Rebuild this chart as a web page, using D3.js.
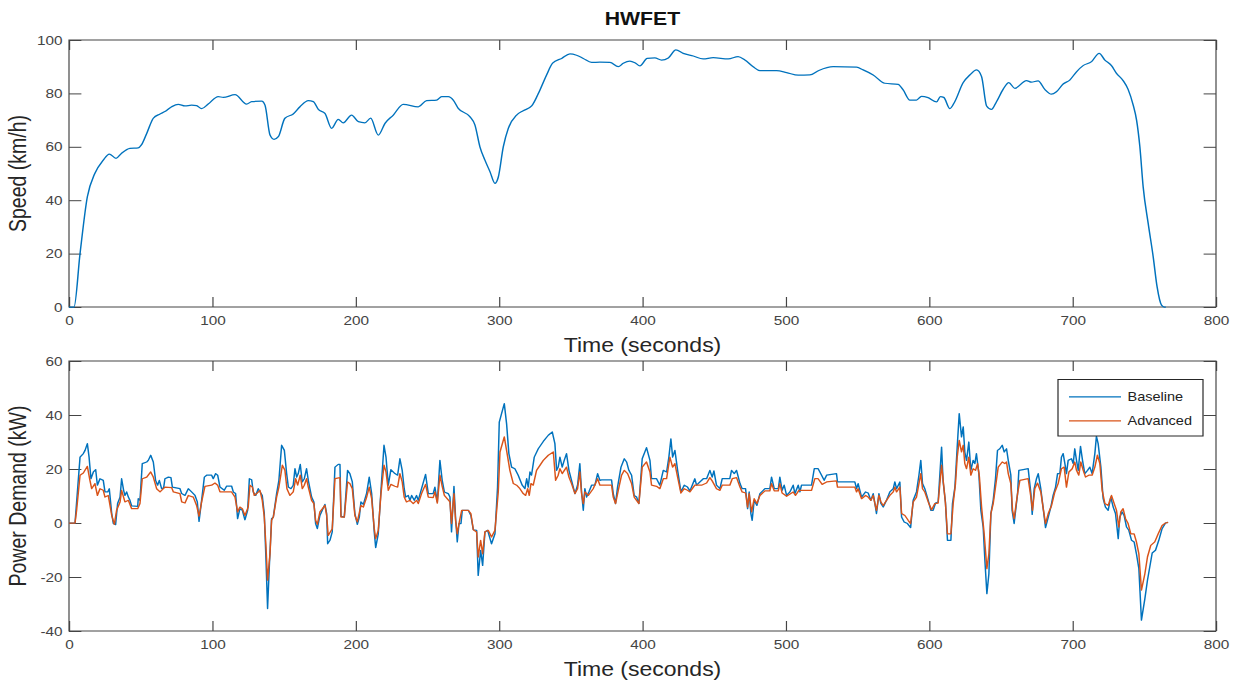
<!DOCTYPE html>
<html>
<head>
<meta charset="utf-8">
<script src="https://cdn.jsdelivr.net/npm/d3@7"></script>
<style>
  html, body { margin: 0; padding: 0; background: #fff; }
  svg { display: block; }
</style>
</head>
<body>
<svg id="chart" width="1240" height="682"></svg>
<script>
// ---- data (time s, value) ----
const chartTitle = "HWFET";
const seriesNames = ["Baseline", "Advanced"];
const timeTicks = [0, 100, 200, 300, 400, 500, 600, 700, 800];
const speedTicks = [0, 20, 40, 60, 80, 100];
const powerTicks = [-40, -20, 0, 20, 40, 60];

const speedKmh = [[0,0],[3.5,0],[7.7,20],[12.8,41.3],[18,50],[23.9,55],[28.1,57.3],[32.8,55.7],[36.7,57.6],[42.5,59.4],[48.3,59.6],[50.5,60.7],[54.2,65],[58.8,70.7],[63.5,72.3],[66.9,73.2],[71.6,75],[76.2,75.9],[80.9,75.3],[85.5,75.6],[89,75.4],[92.5,74.3],[97.1,76],[104.1,78.8],[107.6,78.5],[115.8,79.5],[123.9,76],[127.4,76.9],[134.4,77.1],[136.7,75.6],[140.2,64.4],[143,62.8],[146,63.8],[150.6,70.7],[156.4,72.3],[161.1,75],[166.9,77.3],[170.4,76.9],[173.9,74],[178.5,72.5],[183.2,66.9],[187.8,70.3],[191.3,69],[197.1,71.9],[201.8,69.4],[206.4,69],[210.4,70.7],[215.7,64.4],[220.4,68.8],[226.2,71.9],[233.1,75.9],[243.6,75],[249.4,77.3],[256.4,77.5],[259.9,78.8],[264.6,78.8],[268,77.5],[271.5,74.4],[279.6,71.3],[283.1,68.2],[286.6,60],[290.1,55],[293.6,50.7],[297.1,46.3],[299.4,48.6],[302.9,60],[306.4,66.9],[312.2,71.9],[316.8,73.5],[322.7,75.3],[328.5,81.3],[333.1,86.9],[337.3,91.3],[343.6,93.1],[349.4,94.8],[354,94.3],[358.7,93.1],[364.5,91.6],[370.3,91.7],[377.3,91.6],[383.1,90],[386.6,91.3],[391.2,92.1],[394.7,91.5],[398.2,90.3],[403.3,93.1],[408.6,93.3],[413.3,92.5],[418,93.3],[423.3,96.3],[428.4,95],[435.4,94],[442.3,92.9],[449.3,93.4],[459.8,92.9],[466.7,93.8],[471.4,92.5],[477.2,90],[481.9,88.5],[493.5,88.5],[500.5,87.8],[508.6,86.8],[516.7,86.9],[523,88.6],[533,90],[549.3,89.8],[553.9,88.8],[560.9,86.9],[569,83.8],[578.3,83.4],[581.8,81.3],[586.5,77.5],[591.1,77.5],[594.6,78.9],[599.2,78.4],[605.1,76.8],[607.8,78.8],[610.1,78.5],[614.4,74.3],[617.8,76.9],[623.6,84],[628.3,86.9],[633,88.8],[636.5,86.3],[640,75.3],[643.4,74],[646.9,76.9],[651.5,81.5],[655.5,84],[659.7,81.9],[667.8,84.8],[671.3,84.2],[675.9,84.7],[680.6,81.5],[685.2,79.7],[688.7,80.6],[693.4,83.5],[698,85],[702.7,88.1],[707.3,90.4],[713.2,91.9],[718.5,95],[722.5,92.5],[727.1,90.4],[730.6,87.5],[735.2,84.8],[738.7,81.5],[742.2,75.7],[744.6,70],[746.9,60],[749.2,45],[752.7,31.3],[756.2,18.8],[758.9,7.6],[762,0.7],[764,0],[765,0]];

const baselineKw = [[0,0],[4.2,0],[7.7,24.4],[10,25.7],[11.2,26.9],[12.8,29.4],[14,24.4],[15.3,16.4],[17,18.9],[18.6,19.8],[19.8,14],[21.6,16.4],[23.9,15.8],[25.1,11.5],[27,11.5],[28.1,12.7],[29.8,3.5],[30.9,-0.2],[32.5,-0.6],[33.9,7.2],[35.6,9.6],[36.7,16.4],[38.1,12.1],[39,10.2],[40.2,11.5],[41.4,9.6],[42.5,8.4],[43.7,6.3],[47.9,6.2],[48.3,9],[49.5,8.4],[51.1,22],[54.2,22.6],[55.3,23.2],[57,25.1],[58.8,22.6],[60.4,15.8],[61.8,14],[63,15.8],[64.6,12.7],[66,13],[66.9,16.4],[69.3,17],[71.1,16.8],[72.1,13.3],[77.4,12.7],[78.6,10.9],[80.9,10.2],[83.2,12.7],[85.5,11.5],[87.9,10.2],[89.5,7.8],[90.7,0.6],[92.5,8.4],[94.4,17],[96,17.7],[99.5,17.7],[100.6,16.4],[102.3,18.3],[103.7,17.7],[105.3,13.3],[108.3,12.1],[110,13.7],[113.4,13.7],[114.6,11.5],[116.2,10.9],[117.6,1.6],[119.2,5.3],[120.9,4.7],[122.7,1.2],[124.6,4.7],[125.8,16.4],[127.4,16],[128.5,11.5],[130.2,10.2],[132,12.7],
  [134.8,10.2],[136.2,3.5],[137.4,-13.8],[138.5,-31.7],[139.7,-16.3],[141.3,1.6],[142.5,2.2],[144.8,10.9],[146.4,15.8],[148.3,28.8],[150.2,26.9],[151.8,18.3],[153,13.3],[154.8,12.7],[156.4,14],[157.6,20.1],[158.8,17],[159.9,18.3],[161.3,21.7],[162.7,15.2],[164.1,16.4],[165.7,20.1],[166.9,15.8],[169.2,9.6],[170.8,7.8],[172,-0.2],[173.2,-2.1],[175,2.8],[178.5,6.9],[179.7,3.5],[180.4,-7.7],[182,-6.4],[183.6,-3.3],[185.5,20.7],[187.8,21.7],[189,21.7],[189.7,2.5],[192,2.2],[194.3,19.5],[195.9,18.3],[197.6,15.2],[199.4,3.5],[201.1,-0.5],[202.5,2.2],[203.6,7.8],[205.3,6.9],[207.6,11.1],[209.4,17],[211.1,10.9],[212.9,-3.3],[213.9,-9.1],[215.7,-4],[217.6,12.1],[219.7,28.8],[221.1,24.4],[222.7,14],[224.5,19.8],[227.3,18.3],[229.2,17.7],[230.8,23.8],[232.4,19.5],[233.8,12.7],[234.8,9.6],[236.6,10.2],[237.8,8.4],[239,10.2],[240.8,8.4],[242.4,10.2],[243.6,8.4],[245.9,12.7],[248.7,18],[250.6,10.9],[254,10.9],[255.2,13.3],[256.9,7.8],[258.7,23.2],[260.3,15.8],[261.8,11.5],
  [264.5,10.9],[265.7,9.6],[266.8,-3.3],[268.5,13.6],[269.6,2.2],[270.8,-7],[272,-0.2],[273.4,-0.2],[274.3,4.7],[278.5,4.7],[280.3,2.8],[282,-2.5],[284.3,-2.7],[285.4,-19.4],[287.1,-10.1],[288.5,-15.7],[290.1,-3.3],[292,-2.7],[294.7,-7.7],[297.1,-4],[298.9,13.3],[300.1,37.4],[301.7,40.5],[303.6,44.2],[305.2,36.8],[306.8,25.7],[308.7,20.7],[311,20.1],[313.3,17.7],[316.1,14],[318,12.7],[319.2,16.4],[320.3,13.3],[321.5,18.9],[322.6,17.7],[324.5,24.4],[327.3,27.5],[330.8,30.2],[334.3,32.5],[337.1,33.7],[338.9,29.4],[340.1,19.5],[341.2,20.7],[342.4,24.4],[344,20.7],[345.4,23.2],[347,25.7],[348.7,19.5],[350.5,15.8],[352.9,10.9],[354.7,14],[356.3,22],[357.5,11.5],[358.7,4.7],[359.8,12.7],[361,9.6],[362.6,11.5],[364.5,14],[366.8,14],[368.7,18.3],[370.3,15.8],[371.5,16],[378.4,16],[379.6,10.9],[381.2,7.2],[382.6,13.3],[385,20.7],[387.3,23.8],[388.9,22.6],[390.5,19.5],[392.4,17.7],[394.2,10.2],
  [395.9,9.6],[397.5,7.2],[399.8,23.8],[402.8,27.9],[405.2,23.2],[406.3,16.4],[409.8,16.4],[412.1,14],[414.5,19.5],[416.8,18.9],[418.4,24.4],[419.8,31.2],[421,24.4],[422.6,26.9],[424.5,19.5],[426.8,11.5],[429.1,14],[431.4,13.3],[433.1,11.9],[434.7,14],[436.5,16.4],[437.7,14],[442.4,16.4],[444.7,16.4],[447,19.5],[448.6,17],[449.8,19.3],[451.6,14],[454,12.7],[455.6,16.4],[460.9,16.4],[462.1,19.5],[464,18.3],[465.6,19.5],[468,14.6],[469.5,12.7],[471.9,12.7],[473.3,5.3],[474.4,11.5],[475.6,3.5],[476.5,1],[477.9,8.4],[479.8,6.5],[481.9,10.9],[485.4,12.7],[488.8,12.7],[490,17],[491.9,12.7],[494.7,12.7],[495.8,17],[497.4,12.1],[498.8,14],[500.5,10.2],[502.8,11.5],[505.1,14],[506.3,10.9],[508.6,14],[509.8,11.5],[510.9,14],[517.9,14],[519.8,20.1],[522.5,20.1],[524.9,17.7],[526.7,15.8],
  [528.4,17.7],[535.3,18.3],[536,15.2],[548.1,15.2],[549.3,12.7],[550.4,14.6],[552.8,9.6],[555.6,11.5],[557.4,11.1],[559.3,8.4],[560.9,10.9],[562.1,7.2],[563.2,3.5],[564.9,10.9],[566.3,7.2],[567.9,5.9],[570.2,8.4],[572.5,11.5],[574.9,12.7],[576,15.2],[577.2,12.7],[579.5,15.2],[580.7,2.2],[582.5,0.4],[584.8,-0.2],[587,-1.7],[588.8,8.4],[591.1,11.5],[592.8,17.7],[594.1,23.2],[595.3,14.6],[596.9,12.7],[599.3,8.4],[601.1,4.7],[602.7,4.7],[604.4,7.4],[606.2,7.8],[608.6,28.1],[609.7,15.2],[611.3,7.8],[612.7,-6.4],[615.1,-6.4],[616.2,7.2],[617.9,13.3],[619.5,28.1],[620.9,40.5],[622.5,31.9],[623.7,35.6],[624.8,26.3],[626,23.2],[627.6,30],[629,19.5],[630.6,23.2],[631.8,22],[632.9,25.7],[634.6,18.3],[636,4.7],[637.6,-1.5],[638.8,-13.8],[640.2,-26.2],[641.6,-18.8],[643,3.5],[644.6,8.4],[646.2,16.4],[647.6,26.9],[649.2,27.5],[650.9,28.8],[652.3,26.3],[653.9,27.5],[655.1,23.2],[656.9,17.7],[657.8,4.7],[659.2,-0.2],
  [661.6,10.9],[662.5,19.5],[665.5,19.8],[669,20.1],[670.9,10.9],[671.8,3.2],[673.2,12.7],[674.8,16.4],[676,18.3],[677.8,12.7],[679.5,5.3],[681.1,-1.7],[683,2.2],[684.8,5.9],[686.4,10.2],[688.1,13.3],[689.5,18.3],[691.1,18.3],[692.2,24.4],[693.4,25.7],[694.6,22],[695.7,18.3],[696.9,23.2],[699.2,23.8],[700.4,22],[701.5,27.5],[702.7,23.2],[703.9,19.5],[705.5,28.4],[706.9,23.2],[708.5,18.3],[710.4,19.5],[712,20.7],[713.6,18.3],[715.5,25.7],[716.6,32.1],[717.8,29.4],[719.7,20.7],[721.3,9],[722.9,5.9],[724.8,4.7],[726.6,9.6],[728.3,5.9],[729.9,3.5],[731.8,-5.8],[732.9,2.2],[734.5,4.1],[735.9,2.8],[737.6,-1.5],[739.2,-2.7],[741.1,-6.4],[742.9,-7],[744.5,-11.4],[746.2,-16.9],[748,-36],[750.4,-28],[752.2,-21.2],[753.8,-16.3],[755.5,-11.1],[757.8,-10.1],[760.1,-6.4],[762.4,-2.1],[764.8,0],[766.6,0.2]];

const advancedKw = [[0,0],[4.2,0],[5.3,4.7],[7.7,17.7],[10,18.5],[12.8,21],[14.6,15.8],[15.8,12.7],[18.1,14.6],[19.8,10.2],[21.6,12.7],[23.9,12.1],[25.1,9.6],[27.4,10.2],[29.8,2.8],[31.6,-0.5],[33.2,4.7],[35.6,7.8],[36.7,12.1],[39,7.8],[41.4,8.4],[43.7,5.3],[47.9,5.3],[49.5,7.2],[51.1,16.4],[54.2,17],[57,18.9],[58.8,17],[61.1,12.7],[63.5,11.5],[66.9,13.3],[71.6,13.1],[72.8,11.5],[77.4,10.9],[78.6,7.8],[80.9,7.4],[83.2,10.2],[86.7,9.6],[89,6.5],[90.7,2.5],[92.5,7.8],[94.8,13.6],[99.5,14],[101.8,14.8],[103.7,14],[105.3,11.5],[110,11.5],[113.4,11.5],[115.8,9.6],[117.6,4.1],[119.2,5.9],[120.9,5.3],[122.7,2.8],[125,5.9],[126.2,14],[127.9,13.3],[129.2,10.2],[130.9,10.9],[133.2,12.1],
  [134.8,8.4],[136.2,2.2],[137.4,-8.9],[138.5,-21.2],[140.2,-11.4],[141.3,1],[142.5,2.2],[144.8,9.6],[146.4,13.3],[148.8,21.4],[150.6,19.5],[152,12.7],[154.1,10.2],[156.4,11.5],[158.1,16.4],[159.5,14],[161.3,17.7],[162.7,12.7],[164.1,14],[165.7,16.4],[166.9,13.3],[169.2,8.4],[170.8,7.2],[172,1],[173.2,-0.5],[175,4.1],[178.5,6.5],[179.7,2.8],[180.8,-4.6],[183.6,-2.1],[185.5,16.4],[189,16.8],[189.7,2.2],[192,2.2],[194.3,15.2],[195.9,14.6],[197.6,12.7],[199.4,2.8],[201.1,0.4],[203.6,6.5],[205.3,5.9],[207.6,9.6],[209.4,13.3],[211.1,9],[212.9,-2.1],[213.9,-5.8],[215.7,-2.7],[217.6,10.9],[219.7,21.4],[221.1,18.9],[222.7,12.1],[224.5,14.3],[227.3,13.6],[229.2,13.3],[230.8,18.3],[232.4,15.2],[233.8,9.6],[235.4,7.8],[237.8,8.4],[240.1,7.2],[242.4,8.4],[243.6,7.2],[245.9,10.9],[248.7,14.3],[250.6,9.6],[254,9.4],[255.2,11.5],[256.9,7.4],[258.7,17.7],[260.3,13.6],[261.8,10.2],
  [265.7,7.8],[266.8,-0.2],[268.5,10.9],[269.6,1],[270.8,-4],[272,-0.2],[273.9,4.7],[278.5,4.7],[280.3,3.5],[282,-2.5],[284.3,-3.3],[285.4,-12.6],[287.1,-6.4],[288.5,-11.4],[290.1,-3.3],[292.4,-2.7],[294.7,-5.2],[297.1,-2.7],[299.4,11.5],[300.6,26.3],[303.6,31.9],[305.2,26.9],[307.5,19.5],[309.9,14.6],[312.2,14],[314.5,12.7],[316.8,10.9],[318.5,10.2],[319.9,12.7],[321,10.2],[322.2,14.6],[323.8,14],[326.1,19.5],[330.8,23.2],[334.3,25.1],[337.8,26.3],[339.4,15.8],[341.2,17.7],[342.4,20.1],[344,18.3],[347,20.7],[348.7,17],[350.5,14.6],[352.9,10.9],[354.7,12.7],[356.3,18.9],[357.5,10.9],[358.7,7.2],[359.8,11.5],[362.2,10.2],[365.6,12.7],[368.7,16.4],[370.3,14],[378.4,14],[379.6,9.6],[381.2,7.2],[383.1,12.1],[385.4,17.7],[387.3,19.5],[389.6,18.3],[392.4,14.6],[394.2,9.6],
  [397.5,7.2],[399.8,20.7],[402.8,22.6],[405.2,18.9],[406.3,14],[409.8,13.6],[412.1,12.7],[414.5,16.4],[416.8,16.4],[419.1,24.4],[421,20.7],[422.6,22],[424.5,17],[426.8,11.1],[429.1,12.7],[431.4,12.1],[433.1,11.5],[436.5,14],[441.2,14],[444.7,14.8],[447,16.8],[448.6,15.6],[451.6,12.7],[454,12.1],[455.6,14],[460.9,14],[462.6,16.4],[465.6,16.8],[468,13.3],[469.5,11.5],[471.9,11.1],[473.3,5.9],[474.4,10.9],[476.1,4.1],[477.9,9],[479.8,7.2],[481.9,10.2],[485.4,11.9],[488.8,11.9],[490,14.6],[491.9,11.9],[494.7,11.9],[495.8,14.6],[497.4,11.1],[500.5,9.9],[505.1,11.5],[506.7,10.2],[509.1,12.1],[517.9,12.1],[520.2,16.4],[522.5,16.4],[525.3,14.3],[528.4,15.2],
  [535.3,15.6],[536,13.3],[548.1,13.3],[549.3,11.5],[550.4,12.7],[552.8,9],[555.6,10.2],[557.4,9.6],[559.3,8.4],[560.9,10.2],[562.1,7.2],[563.2,4.7],[564.9,10.2],[566.3,7.8],[567.9,6.5],[570.2,8.4],[572.5,10.2],[574.9,11.5],[576,13.3],[577.2,11.5],[579.5,13.3],[580.7,3.5],[583,2.8],[585.3,1],[587,-0.2],[588.8,7.8],[591.1,9.6],[592.8,14.6],[594.1,18.3],[595.3,12.7],[596.9,11.5],[599.3,7.8],[601.6,4.9],[603.9,7.2],[606.2,7.4],[608.6,21.4],[610.2,13.3],[611.3,7.2],[612.7,-4],[615.1,-4],[616.7,7.2],[618.3,14.6],[619.5,24.4],[620.9,30.6],[622.5,26.3],[623.7,28.8],[624.8,22],[626,20.1],[627.6,24.4],[629,17.7],[630.6,20.1],[632.3,19.5],[633.7,22],[635,17],[636.5,5.9],[638.3,-4],[640.2,-16.9],[641.6,-11.4],[643,3.5],[644.6,7.2],[646.2,13.3],[648.1,20.7],[650.9,22.6],[652.7,22],[653.9,22.6],[655.1,18.3],[656.9,14.6],[658.1,4.7],[659.2,1.6],
  [661.6,10.9],[663.2,15.8],[669,16.4],[670.9,9.6],[672,4.7],[673.6,12.7],[675.5,14.8],[677.8,11.5],[679.5,5.3],[681.1,-0.2],[683,3.5],[685.3,6.5],[687.6,11.5],[689.9,14.6],[692.2,20.1],[694.1,20.7],[695.7,13.3],[697.4,18.9],[699.7,20.1],[701.5,22.6],[702.7,19.5],[704.3,17.7],[705.7,22.6],[707.4,19.5],[709,17],[711.3,17.7],[713.6,17.7],[715.5,20.7],[717.3,25.1],[719,22],[720.6,12.1],[722.5,7.2],[724.8,6.5],[727.1,10.2],[729,7.2],[730.6,4.7],[732.2,-1.5],[733.6,4.1],[735.2,5.3],[736.9,1.6],[738.7,-0.2],[740.6,-4],[742.9,-4],[744.5,-7],[746.2,-11.4],[748,-24.9],[750.4,-18.8],[752.2,-12.6],[754.5,-8.3],[757.3,-7],[759.7,-4],[762.4,-0.9],[764.8,0],[766.6,0.2]];

// ---- layout ----
// the reference figure is stretched horizontally, so draw in a narrower
// viewBox and let the svg scale it out to 1240 wide
const S = 1.18;
const W = 1240 / S, H = 682;
const svg = d3.select("#chart")
  .attr("viewBox", `0 0 ${W} ${H}`)
  .attr("preserveAspectRatio", "none");

const FONT = "'Liberation Sans', Arial, Helvetica, sans-serif";
const axisColor = "#444";
const textColor = "#444";
const colors = ["#0072BD", "#D95319"];

const left = 69 / S, right = 1216 / S;

const x = d3.scaleLinear().domain([0, 800]).range([left, right]);
const ySpeed = d3.scaleLinear().domain([0, 100]).range([307, 40]);
const yPower = d3.scaleLinear().domain([-40, 60]).range([631, 361]);

// plain hyphen minus, like the original figure
const plain = d => String(d);

function drawPanel(y, yTicks, yLabel, top, bottom) {
  const g = svg.append("g");

  // bottom x axis, ticks pointing in
  g.append("g")
    .attr("transform", `translate(0,${bottom})`)
    .call(d3.axisBottom(x).tickValues(timeTicks).tickFormat(plain)
      .tickSizeInner(-10).tickSizeOuter(0).tickPadding(9))
    .call(a => a.select(".domain").remove());
  // mirrored top ticks
  g.append("g")
    .attr("transform", `translate(0,${top})`)
    .call(d3.axisTop(x).tickValues(timeTicks).tickSizeInner(-10).tickSizeOuter(0).tickFormat(""))
    .call(a => a.select(".domain").remove());
  // left y axis
  g.append("g")
    .attr("transform", `translate(${left},0)`)
    .call(d3.axisLeft(y).tickValues(yTicks).tickFormat(plain)
      .tickSizeInner(-10.5).tickSizeOuter(0).tickPadding(5.5))
    .call(a => a.select(".domain").remove());
  // mirrored right ticks
  g.append("g")
    .attr("transform", `translate(${right},0)`)
    .call(d3.axisRight(y).tickValues(yTicks).tickSizeInner(-10.5).tickSizeOuter(0).tickFormat(""))
    .call(a => a.select(".domain").remove());

  g.selectAll(".tick line").attr("stroke", axisColor).attr("stroke-width", 1);
  g.selectAll(".tick text")
    .attr("fill", textColor)
    .style("font-family", FONT)
    .style("font-size", "13px");

  // box
  g.append("rect")
    .attr("x", left).attr("y", top)
    .attr("width", right - left).attr("height", bottom - top)
    .attr("fill", "none")
    .attr("stroke", axisColor)
    .attr("stroke-width", 1);

  // axis labels
  g.append("text")
    .attr("x", (left + right) / 2)
    .attr("y", bottom + 45)
    .attr("text-anchor", "middle")
    .attr("fill", "#262626")
    .style("font-family", FONT)
    .style("font-size", "19.5px")
    .text("Time (seconds)");

  g.append("text")
    .attr("transform", `translate(22,${(top + bottom) / 2}) rotate(-90)`)
    .attr("text-anchor", "middle")
    .attr("fill", "#262626")
    .style("font-family", FONT)
    .style("font-size", "19.5px")
    .text(yLabel);

  return g;
}

const topPanel = drawPanel(ySpeed, speedTicks, "Speed (km/h)", 40, 307);
const botPanel = drawPanel(yPower, powerTicks, "Power Demand (kW)", 361, 631);

// title
svg.append("text")
  .attr("x", (left + right) / 2)
  .attr("y", 25.5)
  .attr("text-anchor", "middle")
  .attr("fill", "#111")
  .style("font-family", FONT)
  .style("font-size", "18px")
  .style("font-weight", "bold")
  .text(chartTitle);

// speed trace
const speedLine = d3.line()
  .x(d => x(d[0]))
  .y(d => ySpeed(d[1]))
  .curve(d3.curveMonotoneX);

topPanel.append("path")
  .datum(speedKmh)
  .attr("d", speedLine)
  .attr("fill", "none")
  .attr("stroke", colors[0])
  .attr("stroke-width", 1.25)
  .attr("stroke-linejoin", "round");

// power traces
const powerLine = d3.line()
  .x(d => x(d[0]))
  .y(d => yPower(d[1]));

[baselineKw, advancedKw].forEach((series, i) => {
  botPanel.append("path")
    .datum(series)
    .attr("d", powerLine)
    .attr("fill", "none")
    .attr("stroke", colors[i])
    .attr("stroke-width", 1.25)
    .attr("stroke-linejoin", "round");
});

// legend
const legend = svg.append("g");
legend.append("rect")
  .attr("x", 1058 / S).attr("y", 379.5)
  .attr("width", (1203 - 1058) / S).attr("height", 56.5)
  .attr("fill", "#fff")
  .attr("stroke", "#262626")
  .attr("stroke-width", 1);

seriesNames.forEach((name, i) => {
  const ly = 396.8 + i * 24;
  legend.append("line")
    .attr("x1", 1069 / S).attr("x2", 1121 / S)
    .attr("y1", ly).attr("y2", ly)
    .attr("stroke", colors[i])
    .attr("stroke-width", 1.25);
  legend.append("text")
    .attr("x", 1127.5 / S)
    .attr("y", ly + 4.3)
    .attr("fill", "#222")
    .style("font-family", FONT)
    .style("font-size", "12.3px")
    .text(name);
});
</script>
</body>
</html>
